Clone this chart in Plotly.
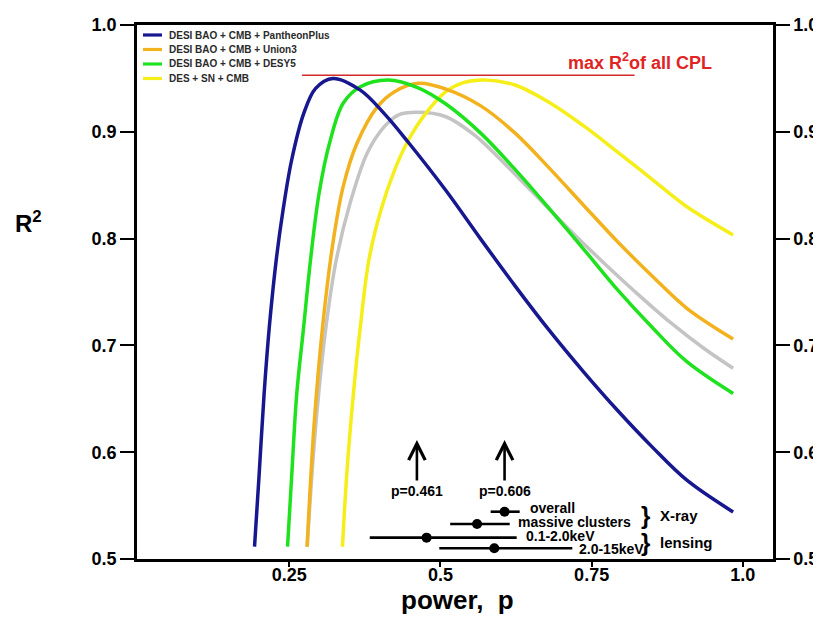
import plotly.graph_objects as go

# ---------------- data ----------------
series_names = [
    "DESI BAO + CMB + PantheonPlus",
    "DESI BAO + CMB + Union3",
    "DESI BAO + CMB + DESY5",
    "DES + SN + CMB",
]

blue_p = [0.1924, 0.1998, 0.2083, 0.2169, 0.2283, 0.2396, 0.2538, 0.2737, 0.2935, 0.322,
          0.3674, 0.407, 0.447, 0.509, 0.566, 0.623, 0.680, 0.737, 0.793, 0.850, 0.907, 0.984]
blue_r2 = [0.5115, 0.577, 0.655, 0.7175, 0.780, 0.8268, 0.8736, 0.917, 0.9407, 0.950,
           0.939, 0.917, 0.890, 0.845, 0.800, 0.756, 0.714, 0.675, 0.639, 0.605, 0.574, 0.544]

orange_p = [0.2794, 0.2907, 0.305, 0.322, 0.339, 0.3617, 0.3958, 0.4241, 0.464, 0.509,
            0.566, 0.623, 0.680, 0.737, 0.793, 0.850, 0.907, 0.984]
orange_r2 = [0.5115, 0.6239, 0.7175, 0.7956, 0.8486, 0.889, 0.9235, 0.9376, 0.9454, 0.940,
             0.9245, 0.899, 0.866, 0.831, 0.797, 0.765, 0.735, 0.706]

green_p = [0.247, 0.2538, 0.2623, 0.2737, 0.285, 0.2992, 0.3163, 0.339, 0.3674, 0.413,
           0.464, 0.509, 0.566, 0.623, 0.680, 0.737, 0.793, 0.850, 0.907, 0.984]
green_r2 = [0.5115, 0.577, 0.655, 0.7175, 0.780, 0.8424, 0.889, 0.9267, 0.9422, 0.9485,
            0.941, 0.926, 0.899, 0.865, 0.828, 0.790, 0.752, 0.717, 0.685, 0.655]

yellow_p = [0.3379, 0.3447, 0.356, 0.3674, 0.3816, 0.4015, 0.4241, 0.447, 0.4753, 0.509,
            0.5378, 0.5719, 0.623, 0.680, 0.737, 0.793, 0.850, 0.907, 0.984]
yellow_r2 = [0.5115, 0.577, 0.655, 0.7175, 0.780, 0.8268, 0.8642, 0.8923, 0.917, 0.9376,
             0.946, 0.9485, 0.9438, 0.9275, 0.9055, 0.8810, 0.8555, 0.8300, 0.8034]

grey_p = [0.2794, 0.2935, 0.3106, 0.3276, 0.3504, 0.3787, 0.407, 0.4299, 0.4611, 0.509,
          0.5549, 0.5946, 0.6514, 0.7082, 0.765, 0.8218, 0.8787, 0.9354, 0.984]
grey_r2 = [0.5115, 0.6239, 0.7175, 0.780, 0.833, 0.8799, 0.9048, 0.9157, 0.9182, 0.9141,
           0.8975, 0.8767, 0.8440, 0.8112, 0.7800, 0.7503, 0.7222, 0.6973, 0.6786]

max_r2 = 0.953
max_line_p = [0.271, 0.821]

arrow_p = [0.461, 0.606]
arrow_labels = ["p=0.461", "p=0.606"]

cluster_labels = ["overall", "massive clusters", "0.1-2.0keV", "2.0-15keV"]
cluster_p = [0.606, 0.5605, 0.477, 0.589]
cluster_lo = [0.583, 0.516, 0.383, 0.498]
cluster_hi = [0.631, 0.6145, 0.626, 0.718]
cluster_r2 = [0.5443, 0.5328, 0.520, 0.510]
group_labels = ["X-ray", "lensing"]

x_ticks = [0.25, 0.5, 0.75, 1.0]
x_ticktext = ["0.25", "0.5", "0.75", "1.0"]
y_ticks = [0.5, 0.6, 0.7, 0.8, 0.9, 1.0]
y_ticktext = ["0.5", "0.6", "0.7", "0.8", "0.9", "1.0"]

# ---------------- styles / layout geometry ----------------
FONT = "Arial, Liberation Sans, Helvetica, sans-serif"
col_blue, col_orange, col_green, col_yellow, col_grey = "#17178f", "#f2b21e", "#1fe21f", "#f6ee18", "#c4c4c4"
legend_colors = [col_blue, col_orange, col_green, col_yellow]
LW = 3.5

W, H = 821, 617
OFF = 8                       # page body margin
PL, PT, PW, PH = 137, 25, 636, 534   # plot area in screen pixels
L, T = PL - OFF, PT - OFF
R_ = W - L - PW
B = H - T - PH


def px2paper_x(px):
    return (px - PL) / PW


def px2paper_y(py):
    return (PT + PH - py) / PH


fig = go.Figure()

fig.add_trace(go.Scatter(x=grey_p, y=grey_r2, mode="lines", line=dict(color=col_grey, width=LW, shape="spline"),
                         showlegend=False, hoverinfo="skip"))
fig.add_trace(go.Scatter(x=yellow_p, y=yellow_r2, mode="lines", name=series_names[3], showlegend=False,
                         line=dict(color=col_yellow, width=LW, shape="spline")))
fig.add_trace(go.Scatter(x=orange_p, y=orange_r2, mode="lines", name=series_names[1], showlegend=False,
                         line=dict(color=col_orange, width=LW, shape="spline")))
fig.add_trace(go.Scatter(x=green_p, y=green_r2, mode="lines", name=series_names[2], showlegend=False,
                         line=dict(color=col_green, width=LW, shape="spline")))
fig.add_trace(go.Scatter(x=blue_p, y=blue_r2, mode="lines", name=series_names[0], showlegend=False,
                         line=dict(color=col_blue, width=LW, shape="spline")))

# max R^2 line
fig.add_trace(go.Scatter(x=max_line_p, y=[max_r2, max_r2], mode="lines",
                         line=dict(color="#d42a2a", width=1.6), showlegend=False, hoverinfo="skip"))

# cluster measurements with error bars
fig.add_trace(go.Scatter(
    x=cluster_p, y=cluster_r2, mode="markers",
    marker=dict(color="black", size=10),
    error_x=dict(type="data", symmetric=False,
                 array=[h - c for h, c in zip(cluster_hi, cluster_p)],
                 arrayminus=[c - l for l, c in zip(cluster_lo, cluster_p)],
                 color="black", thickness=2.6, width=0),
    showlegend=False, hoverinfo="skip"))

# invisible trace for right axis
fig.add_trace(go.Scatter(x=[None], y=[None], yaxis="y2", showlegend=False, hoverinfo="skip"))

ann = []
shapes = []
bold = dict(family=FONT, color="black", weight="bold")

# arrows and labels
for p, lab in zip(arrow_p, arrow_labels):
    ann.append(dict(x=p, y=0.6114, ax=p, ay=0.5721, xref="x", yref="y", axref="x", ayref="y",
                    text="", showarrow=True, arrowhead=5, arrowsize=1.25, arrowwidth=2.6, arrowcolor="black"))
    ann.append(dict(x=p, y=0.5637, xref="x", yref="y", text=lab, showarrow=False,
                    font=dict(size=14, **bold), xanchor="center", yanchor="middle"))

# cluster labels
lab_pos = [(0.6446, 0.5478), (0.6248, 0.5346), (0.6388, 0.5215), (0.7256, 0.5094)]
for lab, (lx, ly) in zip(cluster_labels, lab_pos):
    ann.append(dict(x=lx, y=ly, xref="x", yref="y", text=lab, showarrow=False,
                    font=dict(size=14, **bold), xanchor="left", yanchor="middle"))

# braces and group labels
for gl, gy in zip(group_labels, [0.5405, 0.5152]):
    ann.append(dict(x=0.8397, y=gy, xref="x", yref="y", text="}", showarrow=False,
                    font=dict(size=24, **bold), xanchor="center", yanchor="middle"))
    ann.append(dict(x=0.8603, y=gy, xref="x", yref="y", text=gl, showarrow=False,
                    font=dict(size=15, **bold), xanchor="left", yanchor="middle"))

# max R^2 label
ann.append(dict(x=0.7074, y=0.9654, xref="x", yref="y", text="max R<sup>2</sup>of all CPL", showarrow=False,
                font=dict(family=FONT, size=18, color="#e02424", weight="bold"), xanchor="left", yanchor="middle"))

# legend (drawn as line samples + labels)
legend_rows_y = [35, 49.5, 64, 78.5]
for name, c, ry in zip(series_names, legend_colors, legend_rows_y):
    shapes.append(dict(type="line", xref="paper", yref="paper",
                       x0=px2paper_x(143), x1=px2paper_x(162), y0=px2paper_y(ry), y1=px2paper_y(ry),
                       line=dict(color=c, width=3.2)))
    ann.append(dict(x=px2paper_x(167), y=px2paper_y(ry), xref="paper", yref="paper", text=name,
                    showarrow=False, xanchor="left", yanchor="middle",
                    font=dict(family=FONT, size=10, color="#2a2a2a", weight="bold")))

# axis titles
ann.append(dict(x=px2paper_x(28), y=px2paper_y(222), xref="paper", yref="paper", text="R<sup>2</sup>",
                showarrow=False, font=dict(size=24, **bold), xanchor="center", yanchor="middle"))
ann.append(dict(x=px2paper_x(457), y=px2paper_y(600), xref="paper", yref="paper", text="power,  p",
                showarrow=False, font=dict(size=26, **bold), xanchor="center", yanchor="middle"))

axis_common = dict(showgrid=False, zeroline=False, showline=True, linecolor="black", linewidth=2.5,
                   ticks="outside", tickcolor="black", tickwidth=2)

fig.update_layout(
    width=W, height=H,
    margin=dict(l=L, r=R_, t=T, b=B, autoexpand=False),
    plot_bgcolor="white", paper_bgcolor="white",
    font=dict(family=FONT),
    xaxis=dict(range=[-0.002, 1.05], tickvals=x_ticks, ticktext=x_ticktext, ticklen=5, mirror=True,
               ticklabelstandoff=-7, tickfont=dict(size=18, **bold), **axis_common),
    yaxis=dict(range=[0.5, 1.0], tickvals=y_ticks, ticktext=y_ticktext, ticklen=14,
               tickfont=dict(size=18, **bold), **axis_common),
    yaxis2=dict(range=[0.5, 1.0], tickvals=y_ticks, ticktext=y_ticktext, ticklen=14,
                overlaying="y", side="right", tickfont=dict(size=18, **bold), **axis_common),
    annotations=ann,
    shapes=shapes,
    showlegend=False,
)

fig.write_html("out.html")
